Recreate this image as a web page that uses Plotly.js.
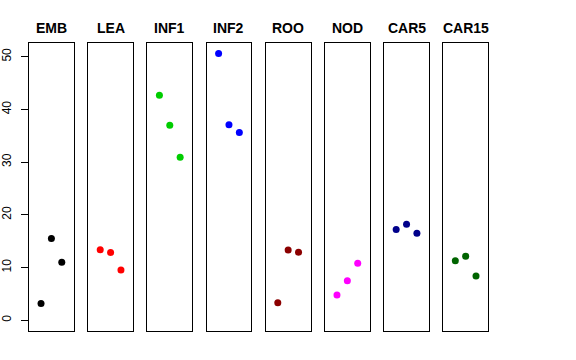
<!DOCTYPE html>
<html><head><meta charset="utf-8">
<script src="https://cdn.plot.ly/plotly-3.0.1.min.js"></script>
<style>body{margin:0;background:#fff}#c{width:576px;height:360px}</style>
</head><body><div id="c"></div>
<script>
const groups = ["EMB","LEA","INF1","INF2","ROO","NOD","CAR5","CAR15"];
const colors = ["#000000","#FF0000","#00CD00","#0000FF","#8B0000","#FF00FF","#00008B","#006400"];
const xpos = [1,2,3];
const EMB = [3.2, 15.5, 11.0];
const LEA = [13.4, 12.85, 9.55];
const INF1 = [42.7, 37.0, 30.95];
const INF2 = [50.6, 37.1, 35.6];
const ROO = [3.35, 13.35, 12.9];
const NOD = [4.8, 7.5, 10.8];
const CAR5 = [17.2, 18.2, 16.5];
const CAR15 = [11.3, 12.15, 8.4];
const values = [EMB, LEA, INF1, INF2, ROO, NOD, CAR5, CAR15];
const yTicks = [0,10,20,30,40,50];

const W = 576, H = 360;
const L = 29, R = 88, T = 43, B = 29;
const plotW = W - L - R;
const pitch = 59.19, pw = 44.8;

const data = [];
const layout = {
  width: W, height: H,
  margin: {l: L, r: R, t: T, b: B, pad: 0},
  paper_bgcolor: "#fff", plot_bgcolor: "#fff",
  showlegend: false,
  font: {family: "Liberation Sans, Arial, sans-serif", size: 11, color: "#000"},
  annotations: []
};
groups.forEach((g, i) => {
  const s = i === 0 ? "" : String(i + 1);
  data.push({
    x: xpos, y: values[i], type: "scatter", mode: "markers",
    xaxis: "x" + s, yaxis: "y" + s,
    marker: {color: colors[i], size: 7}, cliponaxis: false
  });
  const d0 = (i * pitch) / plotW, d1 = (i * pitch + pw) / plotW;
  layout["xaxis" + s] = {
    domain: [d0, Math.min(d1, 1)], range: [-0.16, 4.16], anchor: "y" + s,
    showline: true, mirror: true, linecolor: "#000", linewidth: 1,
    showgrid: false, zeroline: false, showticklabels: false, ticks: ""
  };
  layout["yaxis" + s] = {
    range: [-2.03, 52.6], anchor: "x" + s,
    showline: true, mirror: true, linecolor: "#000", linewidth: 1,
    showgrid: false, zeroline: false,
    showticklabels: i === 0, ticks: i === 0 ? "outside" : "",
    tickvals: yTicks, ticklen: 7, tickcolor: "#000", tickangle: -90,
    ticklabelstandoff: 5,
    tickfont: {size: 12, color: "#000"}
  };
  layout.annotations.push({
    text: "<b>" + g + "</b>", xref: "x" + s + " domain", yref: "paper",
    x: 0.5, y: 1, xanchor: "center", yanchor: "bottom", yshift: 5,
    showarrow: false, font: {size: 14, color: "#000"}
  });
});
Plotly.newPlot("c", data, layout, {staticPlot: true, displayModeBar: false});
</script></body></html>
